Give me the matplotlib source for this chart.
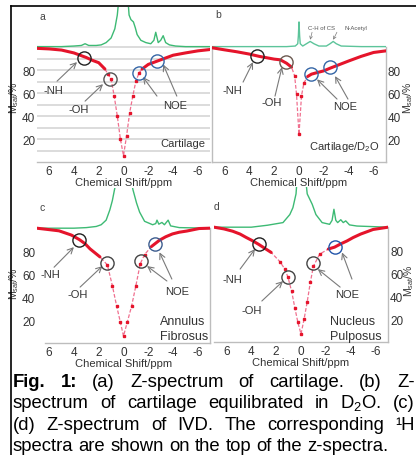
import numpy as np
import matplotlib
matplotlib.use("Agg")
import matplotlib.pyplot as plt
from matplotlib.lines import Line2D

plt.rcParams['font.family'] = ['Liberation Sans', 'DejaVu Sans']
plt.rcParams['mathtext.fontset'] = 'custom'
plt.rcParams['mathtext.rm'] = 'Liberation Sans'
plt.rcParams['mathtext.it'] = 'Liberation Sans:italic'
plt.rcParams['axes.unicode_minus'] = False

# ---------------------------------------------------------------- data
x_ticks = [6, 4, 2, 0, -2, -4, -6]
x_tick_labels = ["6", "4", "2", "0", "-2", "-4", "-6"]
y_ticks = [20, 40, 60, 80]
y_tick_labels = ["20", "40", "60", "80"]

# 1H NMR spectra (offset so the baseline sits at 100 %)
h1_a_ppm = [7, 5, 4, 3.4, 3.1, 2.8, 2.2, 1.8, 1.4, 1.0, 0.7, 0.5, 0.3, 0.1, 0.0, -0.15, -0.3,
            -0.45, -0.6, -0.8, -0.95, -1.1, -1.4, -1.8, -2.2, -2.45, -2.6, -2.8, -3.0, -3.2,
            -3.4, -3.7, -4.2, -5, -7]
h1_a_val = [100.5, 100.5, 101, 101.5, 103, 101.5, 101.5, 102, 104, 108, 116, 128, 150, 175, 180,
            170, 150, 128, 124, 122, 117, 111, 106, 104, 103, 106, 113, 104, 106, 110, 104, 102,
            101, 100.5, 100.5]

h1_b_ppm = [7, 3, 1, 0.3, 0.1, 0.05, 0.0, -0.05, -0.1, -0.3, -0.6, -0.9, -1.2, -1.6, -2.2,
            -2.5, -2.75, -3.0, -3.4, -5, -7]
h1_b_val = [100.5, 100.5, 100.5, 101, 103, 110, 122, 110, 103, 101, 103, 105, 103, 101, 101,
            103, 105, 103, 101, 100.5, 100.5]

h1_c_ppm = [7, 4, 3, 2.2, 1.8, 1.4, 1.1, 0.9, 0.7, 0.4, 0.0, -0.4, -0.75, -1.05, -1.3, -1.7,
            -2.35, -2.6, -2.7, -2.85, -3.1, -3.3, -3.6, -3.8, -4.5, -7]
h1_c_val = [100, 100, 100.5, 101.5, 103, 107, 116, 124, 135, 160, 180, 160, 134, 122, 114, 106,
            103, 104, 107, 103.5, 105, 103, 107, 102, 100.5, 100]

h1_d_ppm = [7, 4, 2.7, 1.45, 0.9, 0.65, 0.4, 0.2, 0, -0.2, -0.5, -0.9, -1.2, -1.7, -2.3, -2.5,
            -2.65, -2.8, -2.95, -3.2, -3.4, -3.6, -3.9, -4.5, -7]
h1_d_val = [100, 100, 101.7, 104, 111, 117, 129, 160, 180, 160, 129, 120, 111, 104, 102.5, 106,
            115.6, 106, 104, 106.5, 104, 105.5, 102, 101, 100]

# Z-spectra, M_sat (%)
z_a_ppm = [7, 6, 5, 4, 3.5, 3, 2.5, 2, 1.5, 1.25, 1.0, 0.75, 0.5, 0.25, 0, -0.25, -0.5, -0.75,
           -1.0, -1.25, -1.5, -2, -2.5, -3, -4, -5, -6, -7]
z_a_val = [99, 98.5, 97.5, 95, 93, 91, 88.5, 86.5, 81, 76.5, 72, 57.5, 40, 20, 5.5, 23, 43, 57.5,
           70.5, 77.5, 81, 85, 87, 89, 93, 95, 96.8, 98]

z_b_ppm = [7, 6, 5, 4, 3.2, 2, 1.5, 1, 0.6, 0.35, 0.2, 0, -0.2, -0.4, -0.7, -1, -1.5, -2, -2.5,
           -3, -4, -5, -6, -7]
z_b_val = [99.5, 97.7, 96, 94, 92, 89.6, 89, 86, 82.6, 75, 59, 24, 57.7, 69, 74.5, 76.5, 78,
           79.4, 81.7, 83.8, 88, 92, 95.4, 96.8]

z_c_ppm = [7, 6.2, 5.2, 4.2, 3.55, 3.1, 2.7, 2.3, 1.9, 1.3, 0.9, 0.55, 0.25, 0, -0.3, -0.65,
           -1.0, -1.35, -1.7, -2.25, -2.9, -3.4, -3.95, -4.5, -5.1, -6.1, -7]
z_c_val = [100, 99, 97.7, 94, 90, 86.5, 82, 78.5, 75, 68, 50, 32, 18, 6, 18, 32, 50, 69, 77, 84,
           89.5, 92.5, 95, 96.5, 97.5, 99.7, 100]

z_d_ppm = [7, 6.2, 5.5, 4.9, 4.4, 3.9, 3.4, 2.9, 2.4, 1.7, 1.3, 1.05, 0.75, 0.5, 0.25, 0, -0.25,
           -0.5, -0.75, -1.0, -1.5, -2.2, -2.7, -3.2, -3.7, -4.2, -4.8, -5.8, -7]
z_d_val = [100, 98.5, 96.5, 94, 91, 88.2, 85, 81.5, 78, 70, 63.5, 56.5, 44, 30, 17, 7, 20, 35,
           52, 66, 76.5, 81, 82.6, 85.5, 88, 91, 94, 98, 100]

# highlighted exchange sites: -NH, -OH, NOE, NOE
site_a_ppm = [3.2, 1.05, -1.25, -2.7]
site_a_val = [91, 72, 77.4, 88]
site_b_ppm = [3.4, 1.05, -1.0, -2.5]
site_b_val = [92, 87, 76.5, 82.6]
site_c_ppm = [3.55, 1.35, -1.45, -2.5]
site_c_val = [89.6, 69.6, 71.3, 86]
site_d_ppm = [3.4, 1.05, -0.97, -2.7]
site_d_val = [85, 56.5, 68.7, 82.6]

# ---------------------------------------------------------------- figure
W, H = 416, 456
fig = plt.figure(figsize=(W / 100, H / 100), dpi=100)


def px_box(left, right, bottom, top):
    return [left / W, 1 - bottom / H, (right - left) / W, (bottom - top) / H]


RED = '#e5142b'
PINK = '#f0708f'
GREEN = '#3dba74'
FRAME = '#bdbdbd'
TXT = '#333333'
ARROW = '#7a7a7a'
TOP = 135


def panel(box, h1_ppm, h1_val, z_ppm, z_val, cut, s_ppm, s_val, s_cols, side,
          labels, arrows, sample, sample_pos, ylab_pos, tick_pad, frame,
          h1_col=GREEN, grid=False):
    ax = fig.add_axes(px_box(*box))
    ax.set_xlim(7, -7)
    ax.set_ylim(0, TOP)
    for sp in ax.spines.values():
        sp.set_visible(False)
    ax.set_xticks(x_ticks)
    ax.set_xticklabels(x_tick_labels)
    ax.set_yticks(y_ticks)
    ax.set_yticklabels(y_tick_labels)
    ax.tick_params(length=0, labelsize=8.5, colors=TXT)
    ax.tick_params(axis='x', pad=2)
    ax.tick_params(axis='y', pad=tick_pad)
    if side == 'right':
        ax.yaxis.tick_right()
        ax.yaxis.set_label_position('right')
    ax.set_xlabel('Chemical Shift/ppm', fontsize=8, color=TXT, labelpad=0)
    ax.set_ylabel(r'M$_{\mathrm{sat}}$/%', fontsize=7.5, color=TXT)
    ax.yaxis.set_label_coords(*ylab_pos)
    ax.patch.set_alpha(0)

    if grid:
        for v in range(10, 101, 10):
            ax.axhline(v, color='#d6d6d6', lw=1.2, zorder=0)
    fx = 100 / TOP
    if 'bottom' in frame:
        ax.axhline(0, xmin=frame['bottom'], color=FRAME, lw=1, clip_on=False)
    if 'left' in frame:
        ax.axvline(7, ymax=fx, color=FRAME, lw=1, clip_on=False)
    if 'right' in frame:
        ax.axvline(-7, ymax=fx, color=FRAME, lw=1, clip_on=False)

    ax.plot(h1_ppm, h1_val, color=h1_col, lw=1.0, zorder=2)

    zp = np.asarray(z_ppm)
    zv = np.asarray(z_val)
    ax.plot(zp, zv, color=PINK, lw=0.9, ls=(0, (3, 1.5)), zorder=3)
    left = zp >= cut
    right = zp <= -cut
    mid = ~(left | right)
    ax.plot(zp[left], zv[left], color=RED, lw=2.2, solid_capstyle='round',
            solid_joinstyle='round', zorder=4)
    ax.plot(zp[right], zv[right], color=RED, lw=2.2, solid_capstyle='round',
            solid_joinstyle='round', zorder=4)
    ax.plot(zp[mid], zv[mid], 's', ms=2.0, color=RED, zorder=4)

    for p, v, c in zip(s_ppm, s_val, s_cols):
        ax.plot(p, v, 'o', ms=9.5, mfc='none', mec=c, mew=1.0, zorder=5)

    for (txt, xy) in labels:
        ax.text(xy[0], xy[1], txt, fontsize=8, color=TXT, ha='center', va='center')
    for (a, b) in arrows:
        ax.annotate('', xy=b, xytext=a,
                    arrowprops=dict(arrowstyle='->,head_length=0.4,head_width=0.2',
                                    color=ARROW, lw=0.8, shrinkA=0, shrinkB=0))
    ha = sample_pos[2]
    for i, s in enumerate(sample):
        ax.text(sample_pos[0], sample_pos[1] - i * 13, s, fontsize=sample_pos[3],
                color=TXT, ha=ha, va='center')
    return ax


CIRC = ['#222222', '#555555', '#3566a6', '#3566a6']

ax_a = panel((36.7, 210.3, 163, 8), h1_a_ppm, h1_a_val, z_a_ppm, z_a_val, 1.4,
             site_a_ppm, site_a_val, CIRC, 'left',
             [('-NH', (5.65, 62.6)), ('-OH', (3.65, 46)), ('NOE', (-4.2, 49.6))],
             [((5.36, 70.4), (3.75, 87)), ((3.1, 53), (1.65, 67.8)),
              ((-2.7, 57.4), (-1.57, 74)), ((-4.3, 57.4), (-3.2, 85))],
             ['Cartilage'], (-6.6, 16.5, 'right', 8), (-0.088, 0.42), 1,
             {'bottom': 0}, grid=True)

ax_b = panel((212, 386, 163, 8), h1_b_ppm, h1_b_val, z_b_ppm, z_b_val, 0.45,
             site_b_ppm, site_b_val, ['#222222', '#6b5a50', '#3566a6', '#3566a6'], 'right',
             [('-NH', (5.4, 62.6)), ('-OH', (2.2, 52)), ('NOE', (-3.7, 48.7))],
             [((4.5, 69.6), (3.7, 87)), ((1.93, 57.4), (1.37, 82.6)),
              ((-3.06, 54.8), (-1.45, 72)), ((-3.94, 54.8), (-2.9, 74.8))],
             [r'Cartilage/D$_2$O'], (-6.5, 14, 'right', 8), (1.085, 0.42), 1,
             {'bottom': 0, 'left': 1, 'right': 1}, h1_col='#5cc49a')

ax_b.text(-1.85, 117.4, 'C-H of CS', fontsize=4.3, color='#555555', ha='center', va='center')
ax_b.text(-4.6, 117.4, 'N-Acetyl', fontsize=4.3, color='#555555', ha='center', va='center')
for a, b in [((-1.05, 113), (-0.9, 106.5)), ((-3.05, 113), (-2.75, 106.5))]:
    ax_b.annotate('', xy=b, xytext=a,
                  arrowprops=dict(arrowstyle='->,head_length=0.2,head_width=0.1',
                                  color=ARROW, lw=0.5, shrinkA=0, shrinkB=0))

ax_c = panel((36.7, 210.3, 344, 189), h1_c_ppm, h1_c_val, z_c_ppm, z_c_val, 1.85,
             site_c_ppm, site_c_val, ['#222222', '#444444', '#444444', '#3d5d8f'], 'left',
             [('-NH', (5.9, 60)), ('-OH', (3.7, 43)), ('NOE', (-4.3, 45))],
             [((5.6, 66), (4.0, 83.5)), ((3.5, 48.7), (1.7, 67)),
              ((-3.5, 54), (-1.9, 67)), ((-3.9, 55.7), (-2.9, 79))],
             ['Annulus', 'Fibrosus'], (-2.95, 19, 'left', 9), (-0.088, 0.39), 1,
             {'bottom': 0.05, 'right': 1})

ax_d = panel((214, 388, 343, 188), h1_d_ppm, h1_d_val, z_d_ppm, z_d_val, 2.1,
             site_d_ppm, site_d_val, ['#222222', '#444444', '#444444', '#2255aa'], 'right',
             [('-NH', (5.55, 54.8)), ('-OH', (3.95, 27.8)), ('NOE', (-3.7, 41.7))],
             [((4.9, 63.5), (3.7, 81)), ((3.15, 35.7), (1.45, 53)),
              ((-3.15, 47.8), (-1.35, 63.5)), ((-4.1, 54.8), (-3.3, 78))],
             ['Nucleus', 'Pulposus'], (-2.35, 18, 'left', 9), (1.084, 0.40), 1.5,
             {'bottom': 0, 'right': 1})

# panel letters
for letter, (px, py) in zip('abcd', [(42, 17), (218, 15), (42, 208), (217, 207)]):
    fig.text(px / W, 1 - py / H, letter, fontsize=7.5, color='#444444', ha='center', va='center')

# page frame
fig.add_artist(Line2D([11 / W, 11 / W], [0, 1 - 7 / H], color='black', lw=1.2,
                      transform=fig.transFigure))
fig.add_artist(Line2D([11 / W, 1], [1 - 7 / H, 1 - 7 / H], color='black', lw=1.2,
                      transform=fig.transFigure))

# caption (justified lines)
caption = [
    ([('Fig.', 'bold'), ('1:', 'bold'), ('(a)', 'normal'), ('Z-spectrum', 'normal'),
      ('of', 'normal'), ('cartilage.', 'normal'), ('(b)', 'normal'), ('Z-', 'normal')], True),
    ([('spectrum', 'normal'), ('of', 'normal'), ('cartilage', 'normal'),
      ('equilibrated', 'normal'), ('in', 'normal'), (r'D$_2$O.', 'normal'),
      ('(c)', 'normal')], True),
    ([('(d)', 'normal'), ('Z-spectrum', 'normal'), ('of', 'normal'), ('IVD.', 'normal'),
      ('The', 'normal'), ('corresponding', 'normal'), ('\u00b9H', 'normal')], True),
    ([('spectra', 'normal'), ('are', 'normal'), ('shown', 'normal'), ('on', 'normal'),
      ('the', 'normal'), ('top', 'normal'), ('of', 'normal'), ('the', 'normal'),
      ('z-spectra.', 'normal')], False),
]
CAP_SIZE = 13.3
L, R = 13, 414.5
renderer = fig.canvas.get_renderer()
space = fig.text(0, 0, 'a a', fontsize=CAP_SIZE)
sp_w = space.get_window_extent(renderer).width - \
    2 * fig.text(0, 0, 'a', fontsize=CAP_SIZE).get_window_extent(renderer).width
for t in fig.texts[-2:]:
    t.remove()
for i, (words, justify) in enumerate(caption):
    base = 387 + i * 21.5
    items = [fig.text(0, 1 - base / H, w, fontsize=CAP_SIZE, fontweight=wt, color='black',
                      ha='left', va='baseline') for w, wt in words]
    widths = [t.get_window_extent(renderer).width for t in items]
    gap = (R - L - sum(widths)) / (len(items) - 1) if justify else sp_w
    x = L
    for t, w in zip(items, widths):
        t.set_x(x / W)
        x += w + gap

fig.savefig('out.png', dpi=100)
